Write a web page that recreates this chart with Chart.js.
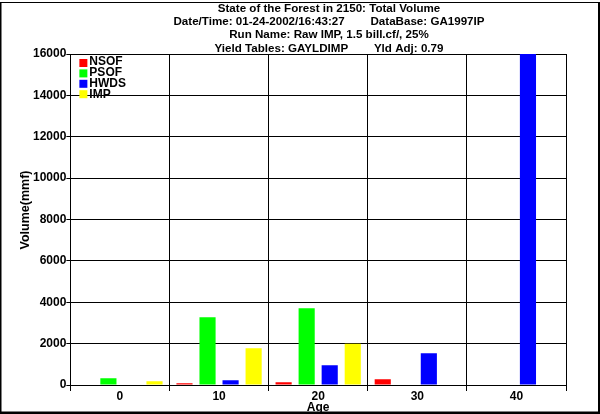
<!DOCTYPE html>
<html lang="en">

<head>
    <meta charset="UTF-8">
    <title>State of the Forest in 2150: Total Volume</title>
    <script src="https://cdn.jsdelivr.net/npm/chart.js"></script>
    <style>
        body {
            margin: 0;
            background: #fff;
        }

        canvas {
            display: block;
        }
    </style>
</head>

<body>
    <canvas id="forestChart" width="600" height="414"></canvas>

    <script>
        // Chart data
        const ages = ['0', '10', '20', '30', '40'];
        const nsof = [0, 80, 130, 275, 0];
        const psof = [325, 3280, 3715, 0, 0];
        const hwds = [0, 225, 960, 1540, 16000];
        const imp = [180, 1780, 1990, 0, 0];

        const yTicks = [0, 2000, 4000, 6000, 8000, 10000, 12000, 14000, 16000];

        const titleLines = [
            'State of the Forest in 2150: Total Volume',
            'Date/Time: 01-24-2002/16:43:27\u00a0\u00a0\u00a0\u00a0\u00a0\u00a0\u00a0\u00a0DataBase: GA1997IP',
            'Run Name: Raw IMP, 1.5 bill.cf/, 25%',
            'Yield Tables: GAYLDIMP\u00a0\u00a0\u00a0\u00a0\u00a0\u00a0\u00a0\u00a0Yld Adj: 0.79'
        ];

        const FONT = '"Liberation Sans", Arial, sans-serif';
        Chart.defaults.color = '#000';
        Chart.defaults.font.family = FONT;

        // frame, title block, y title and legend drawn on the canvas
        const decorations = {
            id: 'decorations',
            beforeDraw(chart) {
                const ctx = chart.ctx;
                ctx.save();
                ctx.fillStyle = '#fff';
                ctx.fillRect(0, 0, chart.width, chart.height);
                ctx.restore();
            },
            afterDraw(chart) {
                const ctx = chart.ctx;
                const area = chart.chartArea;
                ctx.save();

                // outer frame
                ctx.fillStyle = '#000';
                ctx.fillRect(0, 2, 1.5, 412);
                ctx.fillRect(0, 2, 600, 1);
                ctx.fillRect(598, 2, 2, 412);
                ctx.fillRect(0, 411.5, 600, 2.5);

                // title lines
                ctx.font = 'bold 11.6px ' + FONT;
                ctx.textAlign = 'center';
                ctx.textBaseline = 'middle';
                titleLines.forEach((line, i) => {
                    ctx.fillText(line, 329, 8.5 + i * 13.3);
                });

                // y axis title
                ctx.save();
                ctx.font = 'bold 12.5px ' + FONT;
                ctx.translate(26, 210);
                ctx.rotate(-Math.PI / 2);
                ctx.fillText('Volume(mmf)', 0, 0);
                ctx.restore();

                // legend in the top left corner of the plot
                ctx.font = 'bold 12px ' + FONT;
                ctx.textAlign = 'left';
                ctx.textBaseline = 'alphabetic';
                chart.data.datasets.forEach((ds, i) => {
                    ctx.fillStyle = ds.backgroundColor;
                    ctx.fillRect(area.left + 9, area.top + 5 + i * 10.4, 8, 8);
                    ctx.fillStyle = '#000';
                    ctx.fillText(ds.label, area.left + 19, area.top + 10.5 + i * 11);
                });

                ctx.restore();
            }
        };

        const ctx = document.getElementById('forestChart').getContext('2d');

        new Chart(ctx, {
            type: 'bar',
            data: {
                labels: ages,
                datasets: [
                    { label: 'NSOF', data: nsof, backgroundColor: '#ff0000' },
                    { label: 'PSOF', data: psof, backgroundColor: '#00ff00' },
                    { label: 'HWDS', data: hwds, backgroundColor: '#0000ff' },
                    { label: 'IMP', data: imp, backgroundColor: '#ffff00' }
                ]
            },
            options: {
                responsive: false,
                animation: false,
                devicePixelRatio: 1,
                categoryPercentage: 0.93,
                barPercentage: 0.7,
                layout: {
                    padding: { left: 33, right: 34, top: 54, bottom: 0 }
                },
                plugins: {
                    legend: { display: false },
                    title: { display: false },
                    tooltip: { enabled: false }
                },
                scales: {
                    x: {
                        grid: {
                            color: '#000',
                            lineWidth: 1,
                            offset: true,
                            tickLength: 6
                        },
                        border: { color: '#000', width: 1 },
                        ticks: {
                            padding: 0,
                            font: { size: 12, weight: 'bold', lineHeight: 1 }
                        },
                        title: {
                            display: true,
                            text: 'Age',
                            padding: { top: -1, bottom: 0 },
                            font: { size: 12, weight: 'bold', lineHeight: 1 }
                        }
                    },
                    y: {
                        min: 0,
                        max: 16000,
                        afterBuildTicks(scale) {
                            scale.ticks = yTicks.map(v => ({ value: v }));
                        },
                        grid: {
                            color: '#000',
                            lineWidth: 1,
                            tickLength: 4
                        },
                        border: { color: '#000', width: 1 },
                        ticks: {
                            padding: 0,
                            callback: value => String(value),
                            font: { size: 12, weight: 'bold' }
                        }
                    }
                }
            },
            plugins: [decorations]
        });
    </script>
</body>

</html>
